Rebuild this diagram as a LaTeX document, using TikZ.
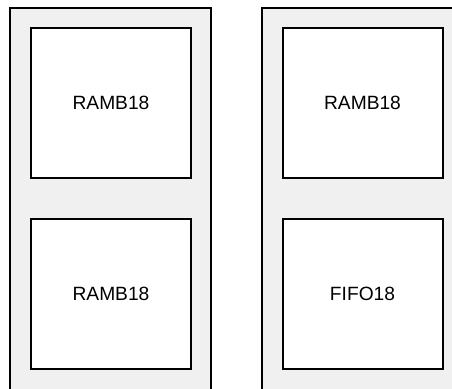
\documentclass[tikz,border=0pt]{standalone}
\usepackage{fontspec}
\setmainfont{Liberation Sans}
\usetikzlibrary{positioning}

\begin{document}
\begin{tikzpicture}[x=1pt,y=-1pt,
  slice/.style={draw=black,line width=2pt,fill=black!6},
  bram/.style={draw=black,line width=2pt,fill=white,minimum width=160pt,minimum height=150pt,inner sep=0pt,font=\fontsize{19.2}{23}\selectfont}]
\useasboundingbox (0,0) rectangle (452,388);
\clip (0,0) rectangle (452,388);
% two slices, both run past the lower edge
\draw[slice] (10,8) rectangle (211,400);
\draw[slice] (262,8) rectangle (470,400);
\node[bram] (ramA) at (111,103) {RAMB18};
\node[bram,below=39pt of ramA] (ramB) {RAMB18};
\node[bram] (ramC) at (362.5,103) {RAMB18};
\node[bram,below=39pt of ramC] (fifo) {FIFO18};
\end{tikzpicture}
\end{document}
